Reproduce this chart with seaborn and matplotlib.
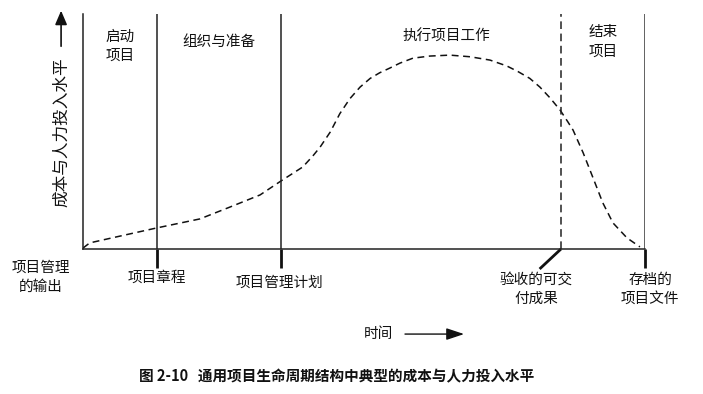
import numpy as np
import pandas as pd
import matplotlib
matplotlib.use("Agg")
import matplotlib.pyplot as plt
import seaborn as sns

# time on x (0-100), cost & staffing level on y (0-100)
curve_time = [0, 1.2, 6.6, 13.0, 20.8, 26.2, 31.5, 35.2, 39.1, 40.9, 42.2, 44.0, 45.7, 47.5,
              49.3, 51.1, 52.8, 54.6, 56.4, 58.7, 61.7, 65.3, 68.9, 72.4, 75.4, 77.4, 79.5,
              81.3, 83.1, 84.9, 86.3, 87.2, 89.0, 90.7, 92.5, 94.3, 96.8, 99.1]
curve_level = [0.4, 2.6, 5.5, 8.9, 12.8, 17.9, 23.0, 28.9, 34.9, 39.6, 43.4, 49.8, 57.6, 64.0,
               68.9, 72.6, 75.0, 77.0, 79.1, 81.2, 82.1, 82.5, 81.8, 80.4, 77.9, 75.5, 72.6,
               68.9, 64.3, 59.1, 54.0, 50.6, 40.9, 30.6, 19.6, 11.1, 4.7, 0.9]

phase_bounds = [0, 13.2, 35.2, 85.05, 100]
phase_names = ["启动\n项目", "组织与准备", "执行项目工作", "结束\n项目"]
milestone_names = ["项目章程", "项目管理计划", "验收的可交\n付成果", "存档的\n项目文件"]
milestone_time = [13.2, 35.2, 85.05, 100]

y_label = "成本与人力投入水平"
x_label = "时间"
output_label = "项目管理\n的输出"
caption = "图 2-10   通用项目生命周期结构中典型的成本与人力投入水平"

sns.set_theme(style="white")
plt.rcParams["font.family"] = ["Noto Sans CJK SC", "DejaVu Sans"]

W, H = 703, 394
fig = plt.figure(figsize=(W / 100, H / 100), dpi=100)
ax = fig.add_axes([83 / W, (H - 249) / H, 562 / W, 235 / H])
ax.set_xlim(0, 100)
ax.set_ylim(0, 100)
ax.set_xticks([])
ax.set_yticks([])
for s in ["top", "right"]:
    ax.spines[s].set_visible(False)
for s in ["left", "bottom"]:
    ax.spines[s].set_color("#222222")
    ax.spines[s].set_linewidth(1.1)

df = pd.DataFrame({"time": curve_time, "level": curve_level})
sns.lineplot(data=df, x="time", y="level", ax=ax, color="#111111", linewidth=1.1,
             linestyle=(0, (4.5, 3)), sort=False)
ax.set_xlabel("")
ax.set_ylabel("")

lc = "#222222"
# phase boundaries
for b in phase_bounds[1:3]:
    ax.axvline(b, color=lc, lw=1.1)
ax.axvline(phase_bounds[3], color=lc, lw=1.1, linestyle=(0, (5, 3)))
ax.axvline(phase_bounds[4], color="#555555", lw=1.3)

# milestone ticks below the axis
tick_len = 8.1
for i, t in enumerate(milestone_time):
    if i == 2:
        ax.plot([t, t - 3.8], [0, -8.5], color="#111111", lw=2, clip_on=False, solid_capstyle="butt")
    else:
        ax.plot([t, t], [0, -tick_len], color="#111111", lw=2, clip_on=False, solid_capstyle="butt")

fs = 10.5
# phase labels
phase_x = [(phase_bounds[i] + phase_bounds[i + 1]) / 2 for i in range(4)]
phase_x[2] = 64.6
phase_y = [86.2, 88.1, 90.2, 88.1]
for name, x, y in zip(phase_names, phase_x, phase_y):
    ax.text(x, y, name, ha="center", va="center", fontsize=fs, linespacing=1.45, color="#111111")

# milestone labels
lab_pos = [(13.2, -12.3), (34.9, -14.5), (80.6, -17.2), (100.9, -17.2)]
for name, (x, y) in zip(milestone_names, lab_pos):
    ax.text(x, y, name, ha="center", va="center", fontsize=fs, linespacing=1.45,
            color="#111111", clip_on=False)
ax.text(-7.5, -11.9, output_label, ha="center", va="center", fontsize=fs, linespacing=1.45,
        color="#111111", clip_on=False)

# time axis label and arrow
ax.text(52.5, -36.2, x_label, ha="center", va="center", fontsize=fs, color="#111111", clip_on=False)
ax.annotate("", xy=(68.3, -36.2), xytext=(56.8, -36.2), xycoords="data",
            arrowprops=dict(arrowstyle="-|>,head_length=0.9,head_width=0.3", color="#111111", lw=1.0),
            annotation_clip=False)

# vertical axis label and arrow
fig.text(62 / W, (H - 132) / H, y_label, rotation=90, ha="center", va="center",
         fontsize=12, color="#111111")
ax.annotate("", xy=(-3.9, 102.6), xytext=(-3.9, 85.1), xycoords="data",
            arrowprops=dict(arrowstyle="-|>,head_length=0.7,head_width=0.3", color="#111111", lw=1.2),
            annotation_clip=False)

fig.text(336.5 / W, (H - 376) / H, caption, ha="center", va="center", fontsize=10.5,
         fontweight="bold", color="#111111")

fig.savefig("out.png", dpi=100, facecolor="white")
